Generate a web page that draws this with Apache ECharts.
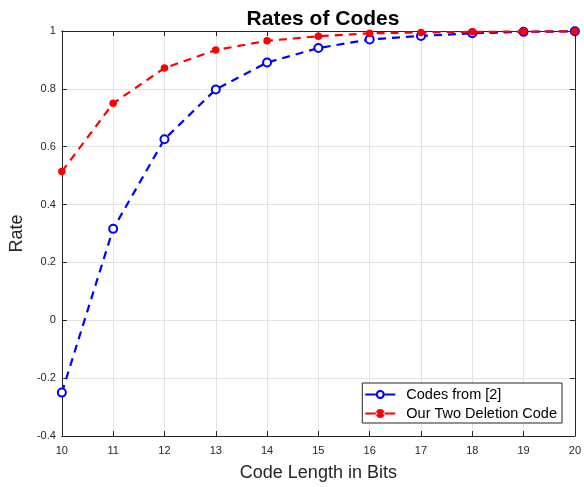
<!DOCTYPE html>
<html><head><meta charset="utf-8">
<script src="https://cdn.jsdelivr.net/npm/echarts@6/dist/echarts.min.js"></script>
<style>html,body{margin:0;padding:0;background:#fff}#c{width:584px;height:487px}</style>
</head><body><div id="c"></div>
<script>
const codeLengths = [10, 11, 12, 13, 14, 15, 16, 17, 18, 19, 20];
const codesFrom2 = [-0.25, 0.316, 0.626, 0.798, 0.891, 0.941, 0.971, 0.983, 0.992, 0.997, 0.999];
const ourTwoDeletion = [0.514, 0.75, 0.872, 0.934, 0.966, 0.982, 0.992, 0.995, 0.997, 0.998, 0.999];
const yTicks = [-0.4, -0.2, 0, 0.2, 0.4, 0.6, 0.8, 1];

const font = 'Liberation Sans, Arial, Helvetica, sans-serif';
const chart = echarts.init(document.getElementById('c'), null, {renderer: 'canvas'});
const pair = (xs, ys) => xs.map((x, i) => [x, ys[i]]);
const axisCommon = {
  axisLine: {show: true, onZero: false, lineStyle: {color: '#262626', width: 1}},
  axisTick: {show: true, inside: true, length: 5, lineStyle: {color: '#262626'}},
};
// legend icons: short line, marker, short line (box 0..30 x 0.5..9.5)
const ringIcon = 'path://M0,4L10.5,4L10.5,6L0,6Z M19.5,4L30,4L30,6L19.5,6Z ' +
  'M10.5,5A4.5,4.5 0 1,0 19.5,5A4.5,4.5 0 1,0 10.5,5Z ' +
  'M12.6,5A2.4,2.4 0 1,1 17.4,5A2.4,2.4 0 1,1 12.6,5Z';
const dotIcon = 'path://M0,4L12,4L12,6L0,6Z M18,4L30,4L30,6L18,6Z ' +
  'M10.5,5A4.5,4.5 0 1,0 19.5,5A4.5,4.5 0 1,0 10.5,5Z';
chart.setOption({
  animation: false,
  backgroundColor: '#fff',
  title: {
    text: 'Rates of Codes', left: 318, textAlign: 'center', top: 4,
    textStyle: {fontFamily: font, fontWeight: 'bold', fontSize: 21, color: '#000'}
  },
  grid: {left: 58, right: 6, top: 31, bottom: 46, containLabel: false},
  legend: {
    right: 22, bottom: 64, orient: 'vertical',
    backgroundColor: '#fff', borderColor: '#262626', borderWidth: 1,
    padding: [3, 5, 1, 3], itemGap: 2, itemWidth: 30, itemHeight: 9,
    textStyle: {fontFamily: font, fontSize: 14.5, color: '#000', lineHeight: 17, padding: [0, 0, 0, 6]},
    data: [
      {name: 'Codes from [2]', icon: ringIcon, itemStyle: {color: '#0000ff', borderWidth: 0}},
      {name: 'Our Two Deletion Code', icon: dotIcon, itemStyle: {color: '#ff0000', borderWidth: 0}}
    ]
  },
  xAxis: [{
    type: 'value', min: 10, max: 20, interval: 1,
    name: 'Code Length in Bits', nameLocation: 'middle', nameGap: 28,
    nameTextStyle: {fontFamily: font, fontSize: 18, color: '#262626'},
    ...axisCommon,
    axisLabel: {fontFamily: font, fontSize: 11, color: '#262626', margin: 9},
    splitLine: {show: true, lineStyle: {color: '#e3e3e3', width: 1}}
  }, {
    type: 'value', min: 10, max: 20, interval: 1, position: 'top',
    ...axisCommon, axisLabel: {show: false}, splitLine: {show: false}
  }],
  yAxis: [{
    type: 'value', min: -0.4, max: 1, interval: 0.2,
    name: 'Rate', nameLocation: 'middle', nameGap: 32, nameRotate: 90,
    nameTextStyle: {fontFamily: font, fontSize: 18, color: '#262626'},
    ...axisCommon,
    axisLabel: {fontFamily: font, fontSize: 11, color: '#262626', margin: 6,
      formatter: v => String(Math.round(v * 10) / 10)},
    splitLine: {show: true, lineStyle: {color: '#e3e3e3', width: 1}}
  }, {
    type: 'value', min: -0.4, max: 1, interval: 0.2, position: 'right',
    ...axisCommon, axisLabel: {show: false}, splitLine: {show: false}
  }],
  series: [{
    name: 'Codes from [2]', type: 'line', data: pair(codeLengths, codesFrom2),
    symbol: 'emptyCircle', symbolSize: 8,
    lineStyle: {color: '#0000ff', width: 2.2, type: [8, 6]},
    itemStyle: {color: '#0000ff', borderColor: '#0000ff', borderWidth: 2.2},
    z: 3
  }, {
    name: 'Our Two Deletion Code', type: 'line', data: pair(codeLengths, ourTwoDeletion),
    symbol: 'circle', symbolSize: 7.5,
    lineStyle: {color: '#ff0000', width: 2.2, type: [8, 6]},
    itemStyle: {color: '#ff0000', borderColor: '#ff0000', borderWidth: 0},
    z: 4
  }]
});
</script></body></html>
